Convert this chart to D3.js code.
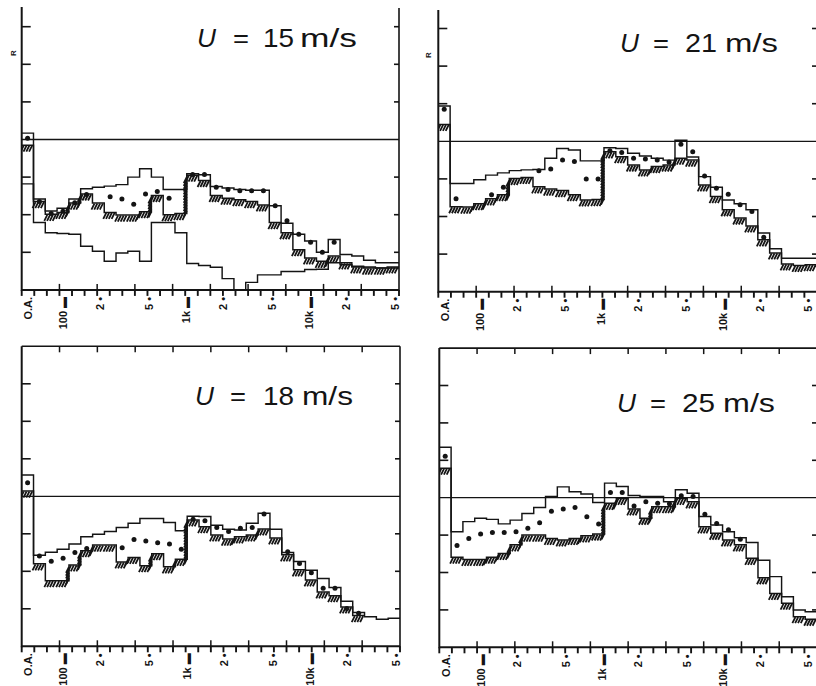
<!DOCTYPE html>
<html><head><meta charset="utf-8">
<script src="https://cdn.jsdelivr.net/npm/d3@7"></script>
<style>html,body{margin:0;padding:0;background:#fff;} svg{display:block;}</style>
</head><body>
<svg id="c" width="816" height="686"></svg>
<script>
// ---- categories: overall level + 1/3-octave bands (Hz) ----
const bands = ["O.A.","50","63","80","100","125","160","200","250","315","400","500","630","800",
  "1k","1.25k","1.6k","2k","2.5k","3.15k","4k","5k","6.3k","8k","10k","12.5k","16k","20k","25k","31.5k","40k","50k"];
const tickLabelFreqs = [100,200,500,1000,2000,5000,10000,20000,50000];
const tickLabelTexts = ["100 ▬","2 •","5 •","1k ▬","2 •","5 •","10k ▬","2 •","5 •"];
const yTicks = [-30,-20,-10,10,20,30];

// ---- series values (dB relative to reference line) ----
const upper15 = [1.7,-15.8,-19.0,-18.3,-15.8,-13.1,-12.7,-12.4,-12.0,-10.0,-7.8,-10.0,-13.3,-13.3,-9.1,-9.4,-12.5,-12.9,-13.3,-13.5,-13.5,-17.6,-22.3,-25.2,-27.0,-30.0,-26.6,-30.6,-31.0,-32.1,-32.8,-32.8];
const lower15 = [-1.5,-16.5,-19.9,-19.4,-16.9,-14.5,-16.9,-19.4,-20.1,-20.1,-19.2,-14.9,-20.0,-19.7,-9.5,-10.9,-14.9,-15.6,-16.0,-16.5,-17.4,-22.1,-24.8,-29.3,-31.5,-32.4,-31.0,-32.8,-33.9,-34.2,-34.2,-33.9];
const mean15  = [0.3,-16.5,-19.7,-19.1,-16.8,-14.6,null,-15.2,-15.8,-17.2,-14.5,-13.8,-15.6,null,-9.3,-9.3,-12.7,-13.3,-13.6,-13.6,-13.6,-17.6,-21.6,-25.2,-27.3,-30.0,-27.3,null,null,null,null,null];
const backgr15 = [-11.8,-22.1,-24.8,-25.0,-25.2,-28.4,-29.7,-32.4,-30.2,-29.7,-32.4,-22.1,-22.1,-24.8,-33.0,-33.5,-34.0,-37.0,-42.0,-38.0,-36.0,-36.0,-35.1,-35.1,-34.6,-34.5,-32.8,-33.3,-33.7,-33.9,-34.2,-34.2];

const upper21 = [9.4,-11.2,-11.2,-10.2,-9.0,-8.4,-7.8,-7.6,-7.5,-4.5,-1.9,-2.3,-5.2,-5.2,-1.7,-1.9,-3.2,-3.9,-4.5,-5.0,0.3,-4.2,-9.4,-12.2,-15.6,-16.6,-18.2,-24.4,-28.6,-31.1,-31.1,-31.1];
const lower21 = [4.5,-17.4,-17.5,-16.6,-15.3,-14.2,-9.9,-9.6,-12.1,-12.7,-13.1,-14.2,-15.6,-15.5,-2.8,-4.1,-6.3,-7.6,-6.7,-6.3,-4.5,-5.0,-11.6,-14.7,-18.2,-20.4,-22.5,-26.2,-29.7,-32.6,-33.0,-32.8];
const mean21  = [8.5,-15.3,null,null,-14.2,-12.2,null,null,-7.8,-7.4,-5.0,-5.4,-10.0,-10.0,-2.5,-3.0,-4.5,-4.7,-5.0,-5.5,-0.8,-2.8,-9.2,-12.5,-14.1,-16.9,-18.7,-25.5,null,null,null,null];

const upper18 = [5.7,-15.7,-14.9,-14.1,-12.7,-10.8,-10.1,-9.4,-8.3,-7.2,-5.9,-5.9,-7.0,-9.2,-5.3,-5.4,-7.7,-8.8,-9.0,-7.2,-4.5,-8.8,-15.0,-17.4,-19.7,-21.9,-24.3,-28.0,-31.0,-32.1,-32.8,-32.5];
const lower18 = [1.4,-18.0,-22.5,-22.5,-18.3,-14.5,-13.0,-13.0,-17.5,-16.3,-18.5,-15.3,-18.8,-16.8,-6.3,-8.1,-10.3,-11.4,-10.8,-10.3,-8.7,-11.1,-15.6,-19.6,-22.3,-25.5,-26.5,-29.5,-31.8,null,null,null];
const mean18  = [3.6,-15.9,-17.3,-16.5,-15.0,-13.9,null,null,-13.7,-11.5,-11.9,-12.4,-12.7,-14.1,-6.1,-6.5,-8.3,-9.4,-8.5,-8.3,-4.7,null,-14.8,-17.9,-20.4,-24.5,-24.5,-29.9,-31.2,null,null,null];

const upper25 = [13.5,-9.1,-6.4,-5.5,-5.8,-7.0,-6.0,-4.2,-2.6,0.3,2.9,1.6,1.0,-1.3,3.9,3.0,0.6,0.3,0.3,-1.1,2.1,1.2,-5.0,-7.3,-9.1,-10.7,-12.0,-16.7,-21.1,-26.5,-30.0,-30.5];
const lower25 = [7.9,-15.9,-16.5,-16.5,-15.9,-14.9,-12.6,-10.0,-10.0,-10.9,-11.3,-10.9,-10.2,-9.7,-1.5,-0.2,-3.0,-5.5,-2.4,-2.4,-0.2,-1.1,-7.8,-9.5,-11.3,-12.6,-16.2,-21.4,-25.6,-28.2,-31.8,-32.5];
const mean25  = [11.1,-12.8,-10.9,-9.7,-9.3,-9.3,-9.1,-8.2,-6.7,-3.6,-3.0,-2.6,-5.1,-7.0,1.4,1.4,-2.2,-1.1,-1.5,-1.6,0.5,0.3,-4.4,-6.9,-8.6,-11.1,null,null,null,null,null,null];

// ---- panel layout (positions / sizes only) ----
const panels = [
  {speed:"15", upper:upper15, lower:lower15, mean:mean15, extra:backgr15,
   x0:21.7, x1:399, yRef:139.5, step:37.6, axisTop:7, box:false, tX:[197,233,263,300], tW:[19,16,31,57], tY:47, mark:[12.7,53]},
  {speed:"21", upper:upper21, lower:lower21, mean:mean21, extra:null,
   x0:438.3, x1:817, yRef:141.3, step:37.6, axisTop:10, box:false, tX:[620,653,685,725], tW:[19,16,32,53], tY:52, mark:[428,55]},
  {speed:"18", upper:upper18, lower:lower18, mean:mean18, extra:null,
   x0:21.7, x1:400, yRef:496.3, step:37.5, box:true, tX:[195,230,263,302], tW:[19,16,31,51], tY:405},
  {speed:"25", upper:upper25, lower:lower25, mean:mean25, extra:null,
   x0:439.3, x1:817, yRef:497.7, step:37.4, box:true, tX:[617,650,682,723], tW:[19,16,33,52], tY:412}
];

const ink = "#141414";
const svg = d3.select("#c");
const font = "'Liberation Sans', Arial, Helvetica, sans-serif";

panels.forEach((p, pi) => {
  const g = svg.append("g");
  const W = p.x1 - p.x0;
  const x = d3.scaleLinear().domain([0, bands.length]).range([p.x0, p.x1]);
  const y = d3.scaleLinear().domain([-40, 40]).range([p.yRef + 4*p.step, p.yRef - 4*p.step]);
  const yB = y(-40), yT = p.box ? y(40) : p.axisTop;
  const lab = d3.scaleLog().domain([100, 50000]).range([p.x0 + 0.1103*W, Math.min(p.x0 + 0.9894*W, 808)]);

  const clipId = "clip" + pi;
  svg.append("clipPath").attr("id", clipId).append("rect")
    .attr("x", p.x0).attr("y", yT).attr("width", W).attr("height", yB - yT);

  // frame
  const line = (x1,y1,x2,y2,w) => g.append("line").attr("x1",x1).attr("y1",y1).attr("x2",x2).attr("y2",y2)
      .attr("stroke", ink).attr("stroke-width", w);
  line(p.x0, yT, p.x0, yB + 1, 2);
  line(p.x1, p.box ? yT : yT + 1, p.x1, yB + 1, 1.6);
  line(p.x0, yB, p.x1, yB, 2);
  if (p.box) line(p.x0, yT, p.x1, yT, 1.6);
  line(p.x0, y(0), p.x1, y(0), 1.3);

  // y ticks
  yTicks.forEach(t => {
    line(p.x0, y(t), p.x0 + 9, y(t), 1.6);
    line(p.x1 - 5, y(t), p.x1, y(t), 1.6);
  });
  // bottom ticks
  d3.range(31).forEach(i => { const xx = p.x0 + i*W/30; line(xx, yB, xx, yB + 6, 1.9); });
  d3.range(1, 10).forEach(i => {
    const xx = p.x0 + i*W/10;
    line(xx, yB, xx, yB - 6, 1.5);
    if (p.box) line(xx, yT, xx, yT + 6, 1.5);
  });

  // tick labels (rotated)
  const labels = [{x: p.x0 + 0.0175*W, t: "O.A."}].concat(tickLabelFreqs.map((f,i)=>({x: lab(f), t: tickLabelTexts[i]})));
  labels.forEach(l => {
    g.append("text").attr("transform", `translate(${l.x},${yB + 7}) rotate(-90)`)
      .attr("text-anchor","end").attr("dy","0.35em")
      .attr("font-family", font).attr("font-weight","bold").attr("font-size", 11)
      .attr("fill", ink).text(l.t);
  });
  if (p.mark) {
    g.append("text").attr("transform", `translate(${p.mark[0]},${p.mark[1]}) rotate(-90)`)
      .attr("text-anchor","middle").attr("dy","0.35em")
      .attr("font-family", font).attr("font-weight","bold").attr("font-size", 8).attr("fill", ink).text("R");
  }

  // data
  const dg = g.append("g").attr("clip-path", `url(#${clipId})`);
  const stepPts = vals => {
    const pts = [];
    vals.forEach((v,k) => { if (v == null) pts.push(null); else pts.push([k, v], [k+1, v]); });
    return pts;
  };
  const lineGen = d3.line().defined(d => d != null).x(d => x(d[0])).y(d => y(d[1]));
  const drawStep = (vals, w) => dg.append("path").attr("d", lineGen(stepPts(vals)))
      .attr("fill","none").attr("stroke", ink).attr("stroke-width", w).attr("stroke-linejoin","miter");

  // hatch under the lower envelope
  const segs = [];
  p.lower.forEach((v,k) => {
    if (v == null) return;
    const ya = y(v), xa = x(k), xb = x(k+1);
    for (let xx = xa + 2; xx <= xb + 0.5; xx += 2.8) segs.push([xx, ya + 0.5, xx - 3, ya + 6.5]);
    const nv = p.lower[k+1];
    if (nv != null && nv > v) {
      const yb = y(nv);
      for (let yy = yb + 2; yy < ya; yy += 2.8) segs.push([xb, yy, xb - 3, yy + 6]);
    }
  });
  dg.append("g").selectAll("line").data(segs).join("line")
    .attr("x1", d => d[0]).attr("y1", d => d[1]).attr("x2", d => d[2]).attr("y2", d => d[3])
    .attr("stroke", ink).attr("stroke-width", 1.8);
  drawStep(p.lower, 1.5);
  drawStep(p.upper, 1.45);
  if (p.extra) drawStep(p.extra, 1.45);

  dg.append("g").selectAll("circle").data(p.mean.map((v,k)=>({v,k})).filter(d => d.v != null)).join("circle")
    .attr("cx", d => x(d.k + 0.5)).attr("cy", d => y(d.v)).attr("r", 2.5).attr("fill", ink);

  // title  U = xx m/s
  const tg = g.append("text").attr("y", p.tY).attr("font-family", font).attr("font-size", 25).attr("fill", ink);
  const parts = [["U", true], ["=", false], [p.speed, false], ["m/s", false]];
  parts.forEach((pt, i) => {
    tg.append("tspan").attr("x", p.tX[i]).attr("textLength", p.tW[i]).attr("lengthAdjust","spacingAndGlyphs")
      .attr("font-style", pt[1] ? "italic" : "normal").text(pt[0]);
  });
});
</script>
</body></html>
